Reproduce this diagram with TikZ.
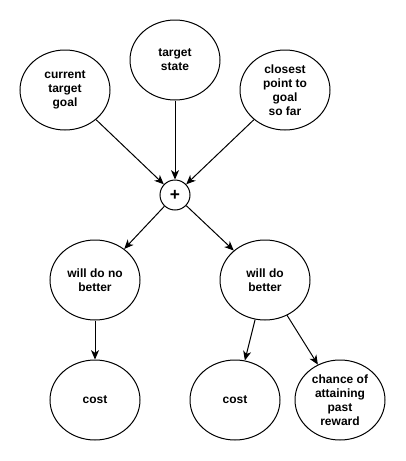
\documentclass[tikz,border=0pt]{standalone}
\usepackage{fontspec}
\setmainfont{Liberation Sans}
\usetikzlibrary{arrows.meta,shapes.geometric}
\begin{document}
\begin{tikzpicture}[x=0.75pt,y=-0.75pt,
  ell/.style={draw,line width=0.75pt,ellipse,minimum width=67.5pt,minimum height=60pt,inner sep=0pt,align=center,font=\bfseries\fontsize{9}{10.5}\selectfont},
  plusnode/.style={draw,line width=0.75pt,circle,minimum size=22.5pt,inner sep=0pt,font=\bfseries\fontsize{13}{13}\selectfont},
  conn/.style={draw,line width=0.75pt,-{Stealth[length=7pt,width=6pt,inset=2pt]}}]
\useasboundingbox (0,0) rectangle (405,461);
\node[ell] (ctg) at (65,90) {current\\target\\goal};
\node[ell] (ts) at (175,60) {target\\state};
\node[ell] (cp) at (285,90) {closest\\point to\\goal\\so far};
\node[plusnode] (plus) at (175,195) {+};
\node[ell] (wdnb) at (95,280) {will do no\\better};
\node[ell] (wdb) at (265,280) {will do\\better};
\node[ell] (cost1) at (95,400) {cost};
\node[ell] (cost2) at (235,400) {cost};
\node[ell] (chance) at (340,400) {chance of\\attaining\\past\\reward};
\draw[conn] (ctg) -- (plus);
\draw[conn] (ts) -- (plus);
\draw[conn] (cp) -- (plus);
\draw[conn] (plus) -- (wdnb);
\draw[conn] (plus) -- (wdb);
\draw[conn] (wdnb) -- (cost1);
\draw[conn] (wdb) -- (cost2);
\draw[conn] (wdb) -- (chance);
\end{tikzpicture}
\end{document}
